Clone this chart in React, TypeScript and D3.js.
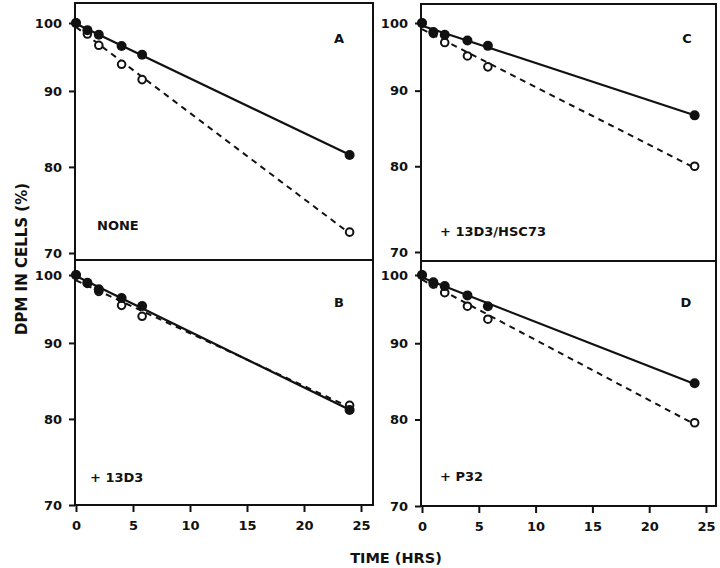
import * as d3 from "d3";
import { useEffect, useRef } from "react";

// sampling times (hrs)
const hours = [0, 1, 2, 4, 5.8, 24];

// DPM in cells (%), filled = solid line, open = dashed line
const filledA = [100, 98.9, 98.2, 96.5, 95.2, 81.5];
const openA = [100, 98.3, 96.6, 93.8, 91.6, 72.3];
const filledB = [100, 98.8, 97.8, 96.5, 95.3, 81.1];
const openB = [100, 98.7, 97.5, 95.4, 93.8, 81.7];
const filledC = [100, 98.6, 98.2, 97.3, 96.5, 86.6];
const openC = [100, 98.4, 97.0, 95.0, 93.4, 80.0];
const filledD = [100, 98.9, 98.3, 96.9, 95.3, 84.6];
const openD = [100, 98.6, 97.3, 95.3, 93.4, 79.6];

const panelLetters = ["A", "B", "C", "D"];
const panelNames = ["NONE", "+ 13D3", "+ 13D3/HSC73", "+ P32"];
const xTicks = [0, 5, 10, 15, 20, 25];
const yTicks = [70, 80, 90, 100];

const FONT = "'DejaVu Sans', sans-serif";

// least squares of ln(v) on t -> exponential decay line
function fitLog(ts: number[], vs: number[]) {
    const ly = vs.map((v) => Math.log(v));
    const mt = d3.mean(ts) as number;
    const my = d3.mean(ly) as number;
    let sxy = 0;
    let sxx = 0;
    ts.forEach((t, i) => {
        sxy += (t - mt) * (ly[i] - my);
        sxx += (t - mt) * (t - mt);
    });
    const b = sxy / sxx;
    const a = my - b * mt;
    return (t: number) => Math.exp(a + b * t);
}

export default function App() {
    const chartRef = useRef<SVGSVGElement | null>(null);

    useEffect(() => {
        const svg = d3.select(chartRef.current);
        svg.selectAll("*").remove();

        const panels = [
            { letter: panelLetters[0], name: panelNames[0], filled: filledA, open: openA,
              left: 75, right: 373, top: 3, bottom: 260, y100: 23, y70: 253, x0: 76, x25: 361,
              xAxis: false, letterPos: [339, 43], namePos: [97, 230] },
            { letter: panelLetters[1], name: panelNames[1], filled: filledB, open: openB,
              left: 75, right: 373, top: 260, bottom: 505, y100: 275, y70: 505, x0: 76, x25: 361,
              xAxis: true, letterPos: [339, 307], namePos: [90, 482] },
            { letter: panelLetters[2], name: panelNames[2], filled: filledC, open: openC,
              left: 421, right: 716, top: 4, bottom: 261, y100: 23, y70: 252, x0: 422, x25: 706,
              xAxis: false, letterPos: [687, 43], namePos: [440, 236] },
            { letter: panelLetters[3], name: panelNames[3], filled: filledD, open: openD,
              left: 421, right: 716, top: 261, bottom: 506, y100: 275, y70: 506, x0: 422, x25: 706,
              xAxis: true, letterPos: [686, 307], namePos: [440, 481] },
        ];

        panels.forEach((p) => {
            const x = d3.scaleLinear().domain([0, 25]).range([p.x0, p.x25]);
            const y = d3.scaleLog().domain([70, 100]).range([p.y70, p.y100]);
            const g = svg.append("g");

            // frame
            g.append("path")
                .attr("d", `M${p.left},${p.top}H${p.right}V${p.bottom}H${p.left}Z`)
                .attr("fill", "none")
                .attr("stroke", "#111")
                .attr("stroke-width", 2);

            // y-axis
            const ya = g.append("g")
                .attr("transform", `translate(${p.left},0)`)
                .call(d3.axisLeft(y).tickValues(yTicks).tickFormat(d3.format("d")).tickSize(6).tickPadding(7));
            ya.select(".domain").remove();
            ya.selectAll("line").attr("stroke", "#111").attr("stroke-width", 2);
            ya.selectAll("text")
                .attr("fill", "#111")
                .style("font-family", FONT)
                .style("font-weight", "bold")
                .style("font-size", "13px");

            // x-axis only on the bottom row
            if (p.xAxis) {
                const xa = g.append("g")
                    .attr("transform", `translate(0,${p.bottom})`)
                    .call(d3.axisBottom(x).tickValues(xTicks).tickSize(7).tickPadding(9));
                xa.select(".domain").remove();
                xa.selectAll("line").attr("stroke", "#111").attr("stroke-width", 2);
                xa.selectAll("text")
                    .attr("fill", "#111")
                    .style("font-family", FONT)
                    .style("font-weight", "bold")
                    .style("font-size", "13px");
            }

            const line = d3.line<number>().x((t) => x(t)).y((t) => y(0)).curve(d3.curveLinear);
            const ends = [0, 24];

            const fOpen = fitLog(hours, p.open);
            g.append("path")
                .attr("d", d3.line<number>().x((t) => x(t)).y((t) => y(fOpen(t)))(ends))
                .attr("fill", "none")
                .attr("stroke", "#111")
                .attr("stroke-width", 2)
                .attr("stroke-dasharray", "6,5");

            const fFilled = fitLog(hours, p.filled);
            g.append("path")
                .attr("d", d3.line<number>().x((t) => x(t)).y((t) => y(fFilled(t)))(ends))
                .attr("fill", "none")
                .attr("stroke", "#111")
                .attr("stroke-width", 2.2);
            void line;

            g.selectAll(".open")
                .data(p.open)
                .join("circle")
                .attr("cx", (_, i) => x(hours[i]))
                .attr("cy", (d) => y(d))
                .attr("r", 3.8)
                .attr("fill", "#fff")
                .attr("stroke", "#111")
                .attr("stroke-width", 2);

            g.selectAll(".filled")
                .data(p.filled)
                .join("circle")
                .attr("cx", (_, i) => x(hours[i]))
                .attr("cy", (d) => y(d))
                .attr("r", 5)
                .attr("fill", "#111");

            g.append("text")
                .attr("x", p.letterPos[0])
                .attr("y", p.letterPos[1])
                .attr("text-anchor", "middle")
                .attr("fill", "#111")
                .style("font-family", FONT)
                .style("font-weight", "bold")
                .style("font-size", "13px")
                .text(p.letter);

            g.append("text")
                .attr("x", p.namePos[0])
                .attr("y", p.namePos[1])
                .attr("fill", "#111")
                .style("font-family", FONT)
                .style("font-weight", "bold")
                .style("font-size", "13px")
                .text(p.name);
        });

        svg.append("text")
            .attr("transform", "translate(27,259) rotate(-90)")
            .attr("text-anchor", "middle")
            .attr("fill", "#111")
            .style("font-family", FONT)
            .style("font-weight", "bold")
            .style("font-size", "15px")
            .text("DPM IN CELLS (%)");

        svg.append("text")
            .attr("x", 396)
            .attr("y", 563)
            .attr("text-anchor", "middle")
            .attr("fill", "#111")
            .style("font-family", FONT)
            .style("font-weight", "bold")
            .style("font-size", "14.5px")
            .text("TIME (HRS)");
    }, []);

    return (
        <svg
            ref={chartRef}
            width={720}
            height={568}
            style={{ position: "absolute", left: 0, top: 0, background: "#fff" }}
        />
    );
}
